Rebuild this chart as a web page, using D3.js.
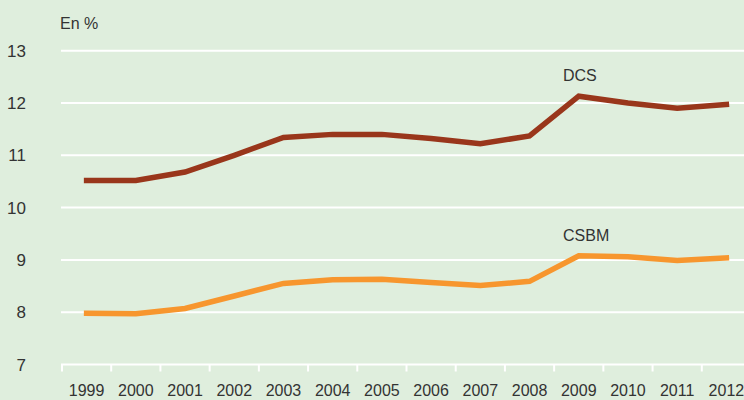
<!DOCTYPE html>
<html>
<head>
<meta charset="utf-8">
<script src="https://cdn.jsdelivr.net/npm/d3@7"></script>
<style>
body { margin: 0; background: #dfeedd; }
text { font-family: "Liberation Sans Narrow", "Arial Narrow", "Liberation Sans", Arial, sans-serif; fill: #333; }
</style>
</head>
<body>
<div id="chart"></div>
<script>
var years = ["1999","2000","2001","2002","2003","2004","2005","2006","2007","2008","2009","2010","2011","2012"];
var dcs  = [10.52, 10.52, 10.68, 11.0, 11.34, 11.4, 11.4, 11.32, 11.22, 11.37, 12.13, 12.0, 11.9, 11.97];
var csbm = [7.98, 7.97, 8.07, 8.31, 8.55, 8.62, 8.63, 8.57, 8.51, 8.59, 9.08, 9.06, 8.99, 9.04];
var yTicks = [7, 8, 9, 10, 11, 12, 13];

var width = 744, height = 400;

var svg = d3.select('#chart')
	.append('svg')
	.attr('width', width)
	.attr('height', height);

svg.append('rect')
	.attr('width', width)
	.attr('height', height)
	.attr('fill', '#dfeedd');

var x = d3.scaleBand()
	.domain(years)
	.range([62, 751]);

var y = d3.scaleLinear()
	.domain([7, 13])
	.range([364.5, 50.7]);

// grid lines
svg.selectAll('.grid')
	.data(yTicks)
	.enter()
	.append('line')
	.attr('x1', 61)
	.attr('x2', width)
	.attr('y1', d => y(d))
	.attr('y2', d => y(d))
	.attr('stroke', '#fff')
	.attr('stroke-width', 2);

// y labels
svg.selectAll('.ylab')
	.data(yTicks)
	.enter()
	.append('text')
	.attr('x', 26)
	.attr('y', d => y(d) + 6)
	.attr('text-anchor', 'end')
	.style('font-size', '17px')
	.text(d => d);

// x ticks (band edges)
var edges = years.map(d => x(d));
svg.selectAll('.xtick')
	.data(edges)
	.enter()
	.append('line')
	.attr('x1', d => d)
	.attr('x2', d => d)
	.attr('y1', y(7))
	.attr('y2', y(7) + 7)
	.attr('stroke', '#fff')
	.attr('stroke-width', 2);

svg.selectAll('.xlab')
	.data(years)
	.enter()
	.append('text')
	.attr('x', d => x(d) + x.bandwidth() / 2)
	.attr('y', 396)
	.attr('text-anchor', 'middle')
	.style('font-size', '16px')
	.text(d => d);

svg.append('text')
	.attr('x', 60)
	.attr('y', 29)
	.style('font-size', '16px')
	.text('En %');

var line = d3.line()
	.x((d, i) => x(years[i]) + x.bandwidth() / 2)
	.y(d => y(d));

svg.append('path')
	.datum(csbm)
	.attr('d', line)
	.attr('fill', 'none')
	.attr('stroke', '#f7962e')
	.attr('stroke-width', 5.5)
	.attr('stroke-linecap', 'square');

svg.append('path')
	.datum(dcs)
	.attr('d', line)
	.attr('fill', 'none')
	.attr('stroke', '#99361b')
	.attr('stroke-width', 5.5)
	.attr('stroke-linecap', 'square');

svg.append('text')
	.attr('x', 563)
	.attr('y', 81)
	.style('font-size', '16px')
	.text('DCS');

svg.append('text')
	.attr('x', 563)
	.attr('y', 241)
	.style('font-size', '16px')
	.text('CSBM');
</script>
</body>
</html>
